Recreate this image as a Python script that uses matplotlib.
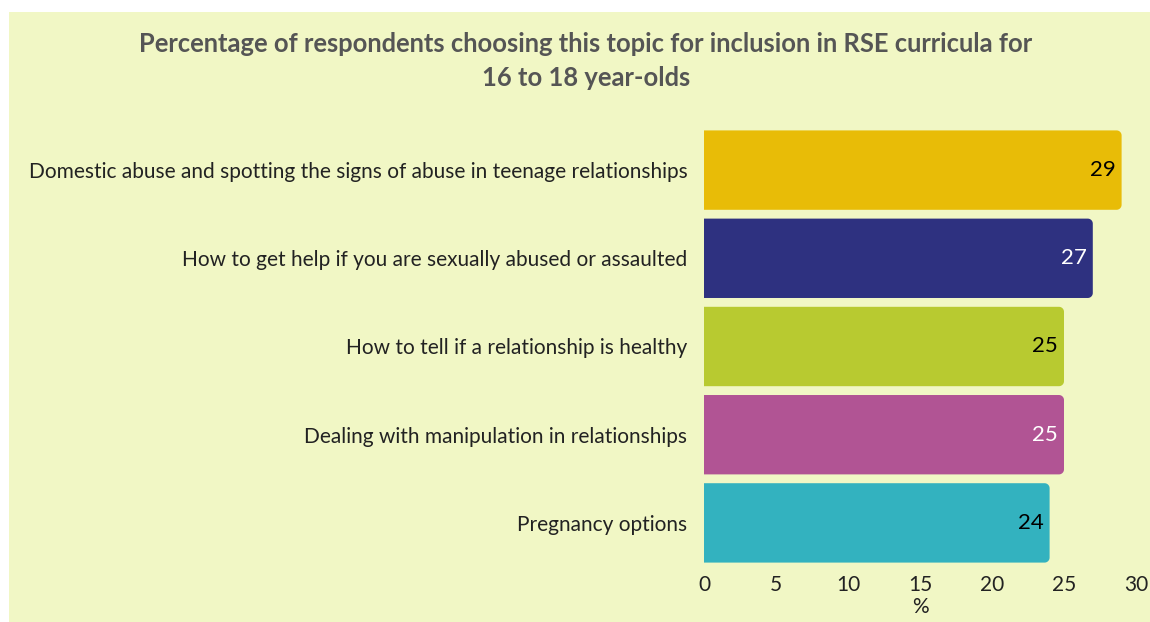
import numpy as np
import matplotlib.pyplot as plt
from matplotlib.patches import Rectangle, Polygon

plt.rcParams['font.family'] = ['Lato', 'DejaVu Sans']

topics = ['Domestic abuse and spotting the signs of abuse in teenage relationships',
          'How to get help if you are sexually abused or assaulted',
          'How to tell if a relationship is healthy',
          'Dealing with manipulation in relationships',
          'Pregnancy options']
values = [29, 27, 25, 25, 24]
colors = ['#E8BC07', '#2E3180', '#B8CA30', '#B15494', '#33B2BF']
label_colors = ['black', 'white', 'black', 'white', 'black']
xticks = [0, 5, 10, 15, 20, 25, 30]

bg = '#F1F7C5'
fig = plt.figure(figsize=(11.5, 6.22), dpi=100, facecolor='white')
# background panel with white margin at top and left
fig.patches.append(Rectangle((9 / 1150, 0), 1 - 9 / 1150, 1 - 12 / 622,
                             transform=fig.transFigure, facecolor=bg,
                             edgecolor='none', zorder=-10))

ax = fig.add_axes([704 / 1150, 1 - 567 / 622, 432 / 1150, 441 / 622])
ax.set_facecolor('none')


def bar_shape(v, y, h, rx=0.35, ry=0.057):
    # square left end, rounded right corners (radius ~5px each way)
    t = np.linspace(0, np.pi / 2, 12)
    top = y - h / 2
    bot = y + h / 2
    pts = [(0, top)]
    pts += list(zip(v - rx + rx * np.sin(t), top + ry - ry * np.cos(t)))
    pts += list(zip(v - rx + rx * np.cos(t), bot - ry + ry * np.sin(t)))
    pts += [(0, bot)]
    return pts


h = 0.9
ypos = range(len(topics))
for y, v, c in zip(ypos, values, colors):
    ax.add_patch(Polygon(bar_shape(v, y, h), closed=True, facecolor=c, edgecolor='none'))
for y, v, c in zip(ypos, values, label_colors):
    ax.text(v - 0.4, y, str(v), ha='right', va='center', fontsize=16, color=c)

ax.set_xlim(0, 30)
ax.set_ylim(len(topics) - 0.5, -0.5)
ax.set_xticks(xticks)
ax.set_yticks(list(ypos))
ax.set_yticklabels(topics, fontsize=15, color='#222222')
ax.tick_params(axis='x', labelsize=15, length=0, pad=6, colors='#222222')
ax.tick_params(axis='y', length=0, pad=12)
ax.set_xlabel('%', fontsize=15, color='#222222', labelpad=1)
for s in ax.spines.values():
    s.set_visible(False)

fig.text(586 / 1150, 1 - 61 / 622,
         'Percentage of respondents choosing this topic for inclusion in RSE curricula for\n16 to 18 year-olds',
         ha='center', va='center', fontsize=18.4, fontweight='bold', color='#555555',
         linespacing=1.45)

plt.savefig('out.png', dpi=100, facecolor='white')
